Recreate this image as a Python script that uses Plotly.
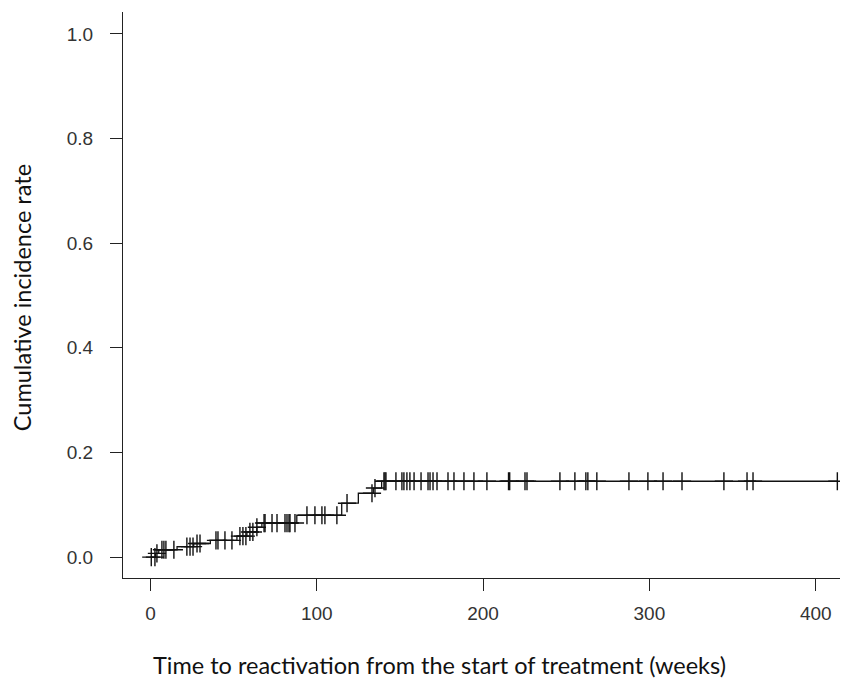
import plotly.graph_objects as go

# Event times (weeks) and cumulative incidence after each event
event_times = [3, 5, 16, 26, 36, 52, 58, 64, 67, 88, 115, 125, 134, 139]
cif_values = [0.007, 0.014, 0.020, 0.026, 0.032, 0.040, 0.048, 0.057, 0.065,
              0.080, 0.103, 0.122, 0.132, 0.145]

# Censoring times (weeks)
censor_times = [0.5, 2.7, 3.9, 6.9, 8.1, 9.3, 14.1, 21.9, 23.8, 25.6, 28.0, 29.8,
                39.4, 40.6, 44.8, 49.0, 53.8, 55.6, 57.4, 59.8, 61.6, 64.0, 68.3,
                68.9, 73.1, 76.1, 80.9, 82.1, 83.3, 83.9, 86.9, 94.1, 98.9, 103.1,
                104.9, 112.1, 118.2, 133.2, 135.0, 140.4, 141.0, 141.6, 147.6,
                151.2, 152.4, 154.2, 156.0, 158.5, 162.7, 166.9, 168.1, 169.9,
                172.3, 178.9, 182.5, 188.5, 194.5, 202.3, 215.3, 216.0, 225.2,
                226.4, 246.2, 255.2, 261.8, 263.0, 268.4, 287.7, 299.1, 308.2,
                319.6, 344.8, 358.7, 362.3, 413.0]

x_ticks = [0, 100, 200, 300, 400]
y_ticks = [0.0, 0.2, 0.4, 0.6, 0.8, 1.0]


def cif_at(t):
    v = 0.0
    for et, cv in zip(event_times, cif_values):
        if et <= t:
            v = cv
    return v


step_x = [0] + event_times + [max(censor_times)]
step_y = [0] + cif_values + [cif_values[-1]]
censor_y = [cif_at(t) for t in censor_times]

fig = go.Figure()
fig.add_trace(go.Scatter(x=step_x, y=step_y, mode="lines", line_shape="hv",
                         line=dict(color="#111111", width=1.3), showlegend=False,
                         hoverinfo="skip"))
fig.add_trace(go.Scatter(x=censor_times, y=censor_y, mode="markers",
                         marker=dict(symbol="cross-thin", size=13,
                                     line=dict(color="#111111", width=1.4)),
                         showlegend=False))

tickfont = dict(family="Liberation Sans, Arial, sans-serif", size=19, color="#333333")
title_font = dict(family="Lato, Open Sans, sans-serif", size=23.5, color="#111111")

fig.update_layout(
    width=845, height=679,
    margin=dict(l=115, r=13, t=4, b=109),
    plot_bgcolor="white", paper_bgcolor="white",
    xaxis=dict(range=[-16.5, 414.6], tickvals=x_ticks, ticks="outside", ticklen=12,
               tickwidth=1.2, tickcolor="#222222", showline=True, linecolor="#222222",
               linewidth=1.3, showgrid=False, zeroline=False, tickfont=tickfont,
               ticklabelstandoff=6),
    yaxis=dict(range=[-0.040, 1.042], tickvals=y_ticks, tickformat=".1f",
               ticks="outside", ticklen=12, tickwidth=1.2, tickcolor="#222222",
               showline=True, linecolor="#222222", linewidth=1.3, showgrid=False,
               zeroline=False, tickfont=tickfont, ticklabelstandoff=13),
    annotations=[
        dict(text="Time to reactivation from the start of treatment (weeks)",
             xref="paper", yref="paper", x=0.442, y=-0.154, xanchor="center",
             yanchor="middle", showarrow=False, font=title_font),
        dict(text="Cumulative incidence rate", xref="paper", yref="paper",
             x=-0.141, y=0.496, xanchor="center", yanchor="middle",
             textangle=-90, showarrow=False, font=title_font),
    ],
)

fig.write_html("out.html")
